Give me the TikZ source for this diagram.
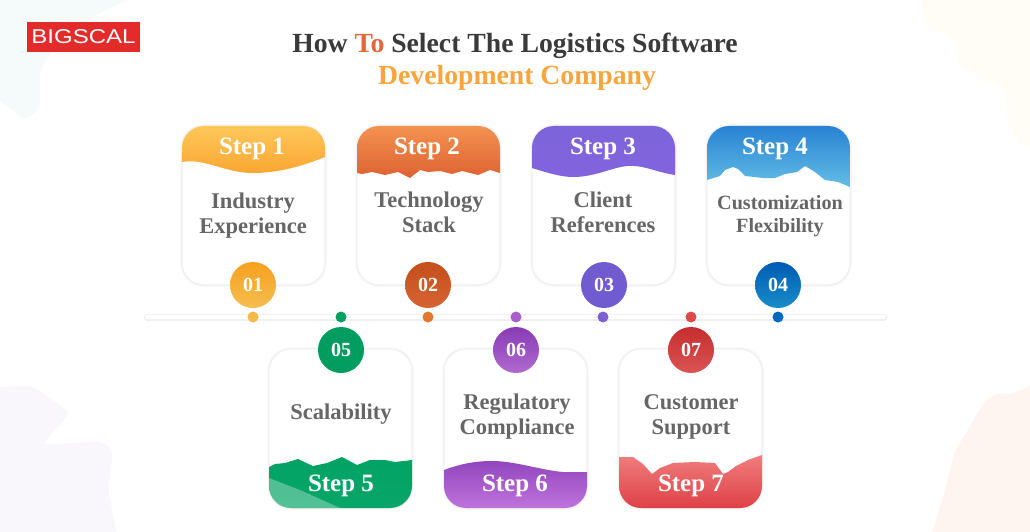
\documentclass[tikz,border=0pt]{standalone}
\usepackage{fontspec}
\setmainfont{Liberation Serif}
\newfontfamily\logofont{Liberation Sans}
\definecolor{inkdark}{HTML}{3A3A3A}
\definecolor{inkgrey}{HTML}{666666}
\definecolor{titleorange}{HTML}{F9A43C}
\definecolor{titlered}{HTML}{E2693C}
\definecolor{logored}{HTML}{E32B2B}
\tikzset{
  stepcard/.style  = {draw=black!6,line width=1.2pt,fill=white,rounded corners=22pt,
                      preaction={draw=black!3,line width=3.5pt},
                      minimum width=143pt,minimum height=159pt,inner sep=0pt,outer sep=0pt},
  steptitle/.style = {font=\fontsize{25}{25}\selectfont\bfseries,white,inner sep=0pt},
  stepbody/.style  = {font=\fontsize{22.5}{25}\selectfont\bfseries,inkgrey,align=center,inner sep=0pt},
  stepnum/.style   = {circle,minimum size=46pt,inner sep=0pt,
                      font=\fontsize{20}{20}\selectfont\bfseries,white},
  stepdot/.style   = {circle,minimum size=11pt,inner sep=0pt},
  timeline/.style  = {draw=black!6,line width=1.5pt,double=white,double distance=4pt,line cap=round},
  blob/.style      = {draw=none,rounded corners=6pt}
}
\begin{document}
\begin{tikzpicture}[x=1pt,y=-1pt]
  \useasboundingbox (0,0) rectangle (1030,532);
  \fill[white] (0,0) rectangle (1030,532);
  % pale washes in the corners
  \fill[blob,fill={rgb,255:red,244;green,251;blue,250}] (0,-8) -- (150,-8) -- (108,8) -- (60,38) -- (40,70)
        -- (40,108) -- (25,120) -- (-8,95) -- cycle;
  \fill[blob,fill={rgb,255:red,255;green,253;blue,245}] (920,-8) -- (925,25) -- (955,40) -- (958,65) -- (1005,90)
        -- (1008,125) -- (1020,145) -- (1038,145) -- (1038,-8) -- cycle;
  \fill[blob,fill={rgb,255:red,249;green,247;blue,251}] (-8,387) -- (32,386) -- (60,405) -- (70,413) -- (42,445)
        -- (100,441) -- (113,450) -- (108,490) -- (118,540) -- (-8,540) -- cycle;
  \fill[blob,fill={rgb,255:red,255;green,245;blue,240}] (1038,382) -- (1010,395) -- (1000,392) -- (985,400)
        -- (965,435) -- (955,450) -- (945,490) -- (930,540) -- (1038,540) -- cycle;

  % logo and heading
  \node[fill=logored,minimum width=113pt,minimum height=30pt,inner sep=0pt] (logobox) at (83.5,37) {};
  \node[xscale=1.2,font=\logofont\fontsize{20}{20}\selectfont,white,inner sep=0pt] (logotext) at (logobox) {BIGSCAL};
  \node[font=\fontsize{27.7}{28}\selectfont\bfseries,inkdark,inner sep=0pt] (headA) at (515,46)
        {How \textcolor{titlered}{To} Select The Logistics Software};
  \node[font=\fontsize{27.7}{28}\selectfont\bfseries,titleorange,inner sep=0pt] (headB) at (517,78)
        {Development Company};

  % timeline behind everything
  \coordinate (lineL) at (147,317);
  \coordinate (lineR) at (884,317);
  \draw[timeline] (lineL) -- (lineR);

  % upper cards
  \node[stepcard] (cardA) at (253.5,205.5) {};
  \node[stepcard] (cardB) at (428.5,205.5) {};
  \node[stepcard] (cardC) at (603.5,205.5) {};
  \node[stepcard] (cardD) at (778.5,205.5) {};
  % lower cards
  \node[stepcard] (cardE) at (340.5,428.5) {};
  \node[stepcard] (cardF) at (515.5,428.5) {};
  \node[stepcard] (cardG) at (690.5,428.5) {};

  % coloured bands, clipped to the cards
  \begin{scope}
    \clip[rounded corners=22pt] (cardA.north west) rectangle (cardA.south east);
    \shade[top color={rgb,255:red,254;green,200;blue,90},bottom color={rgb,255:red,250;green,166;blue,50}]
      (182,126) -- (325,126) -- (325,157) .. controls (305,165) and (280,173) .. (253,173)
      .. controls (225,173) and (205,158) .. (182,162) -- cycle;
  \end{scope}
  \begin{scope}
    \clip[rounded corners=22pt] (cardB.north west) rectangle (cardB.south east);
    \shade[top color={rgb,255:red,243;green,146;blue,80},middle color={rgb,255:red,224;green,100;blue,52},bottom color={rgb,255:red,222;green,98;blue,50}]
      (357,126) -- (500,126) -- (500,173) -- (490,170) -- (478,175) -- (462,171) -- (452,174) -- (440,171)
      -- (428,172) -- (420,170) -- (410,178) -- (398,172) -- (385,175) -- (372,172) -- (362,174) -- (357,173) -- cycle;
  \end{scope}
  \begin{scope}
    \clip[rounded corners=22pt] (cardC.north west) rectangle (cardC.south east);
    \shade[top color={rgb,255:red,125;green,100;blue,218},bottom color={rgb,255:red,130;green,100;blue,222}]
      (532,126) -- (675,126) -- (675,175) .. controls (655,172) and (645,165) .. (627,166)
      .. controls (610,168) and (595,177) .. (573,177) .. controls (560,177) and (545,172) .. (532,168) -- cycle;
  \end{scope}
  \begin{scope}
    \clip[rounded corners=22pt] (cardD.north west) rectangle (cardD.south east);
    \shade[top color={rgb,255:red,40;green,130;blue,210},bottom color={rgb,255:red,100;green,190;blue,230}]
      (707,126) -- (850,126) -- (850,187) -- (838,182) -- (825,180) -- (815,172) -- (805,166) -- (797,172)
      -- (785,174) -- (775,178) -- (763,178) -- (745,176) -- (738,169) -- (733,167) -- (725,170) -- (720,176)
      -- (707,180) -- cycle;
  \end{scope}
  \begin{scope}
    \clip[rounded corners=22pt] (cardE.north west) rectangle (cardE.south east);
    \shade[top color={rgb,255:red,0;green,163;blue,100},bottom color={rgb,255:red,10;green,165;blue,105}]
      (269,508) -- (412,508) -- (412,460) -- (395,462) -- (385,460) -- (370,460) -- (357,465) -- (342,457)
      -- (327,463) -- (313,466) -- (298,459) -- (285,463) -- (275,464) -- (269,467) -- cycle;
    % lighter wash in the lower left of this band
    \fill[white,opacity=.3] (269,478) -- (300,490) -- (340,508) -- (269,508) -- cycle;
  \end{scope}
  \begin{scope}
    \clip[rounded corners=22pt] (cardF.north west) rectangle (cardF.south east);
    \shade[top color={rgb,255:red,146;green,70;blue,190},bottom color={rgb,255:red,190;green,115;blue,220}]
      (444,508) -- (587,508) -- (587,472) -- (563,472) .. controls (540,470) and (515,461) .. (492,461)
      .. controls (475,461) and (460,464) .. (444,470) -- cycle;
  \end{scope}
  \begin{scope}
    \clip[rounded corners=22pt] (cardG.north west) rectangle (cardG.south east);
    \shade[top color={rgb,255:red,240;green,125;blue,125},bottom color={rgb,255:red,222;green,65;blue,70}]
      (619,508) -- (762,508) -- (762,455) -- (748,460) -- (736,466) -- (728,472) -- (723,474) -- (715,463)
      -- (695,462) -- (673,463) -- (660,468) -- (652,474) -- (643,464) -- (633,457) -- (619,457) -- cycle;
  \end{scope}

  % band titles
  \node[steptitle] (titleA) at (252,149) {Step 1};
  \node[steptitle] (titleB) at (427,149) {Step 2};
  \node[steptitle] (titleC) at (603,149) {Step 3};
  \node[steptitle] (titleD) at (775,149) {Step 4};
  \node[steptitle] (titleE) at (341,486) {Step 5};
  \node[steptitle] (titleF) at (515,486) {Step 6};
  \node[steptitle] (titleG) at (691,486) {Step 7};

  % card texts
  \node[stepbody] (textA) at (253,216) {Industry\\Experience};
  \node[stepbody] (textB) at (429,212) {Technology\\Stack};
  \node[stepbody] (textC) at (603,212) {Client\\References};
  \node[stepbody,font=\fontsize{20.2}{23}\selectfont\bfseries] (textD) at (780,216) {Customization\\Flexibility};
  \node[stepbody] (textE) at (341,414) {Scalability};
  \node[stepbody] (textF) at (517,417) {Regulatory\\Compliance};
  \node[stepbody] (textG) at (691,417) {Customer\\Support};

  % numbered discs
  \node[stepnum,top color={rgb,255:red,247;green,160;blue,30},bottom color={rgb,255:red,245;green,190;blue,80}] (numA) at (253,285) {01};
  \node[stepnum,top color={rgb,255:red,196;green,78;blue,28},bottom color={rgb,255:red,214;green,100;blue,50}] (numB) at (428,285) {02};
  \node[stepnum,fill={rgb,255:red,112;green,92;blue,208}] (numC) at (604,285) {03};
  \node[stepnum,top color={rgb,255:red,0;green,92;blue,180},bottom color={rgb,255:red,24;green,140;blue,200}] (numD) at (778,285) {04};
  \node[stepnum,fill={rgb,255:red,0;green,156;blue,96}] (numE) at (341,350) {05};
  \node[stepnum,top color={rgb,255:red,136;green,60;blue,180},bottom color={rgb,255:red,176;green,106;blue,208}] (numF) at (516,350) {06};
  \node[stepnum,top color={rgb,255:red,198;green,46;blue,46},bottom color={rgb,255:red,218;green,84;blue,84}] (numG) at (691,350) {07};

  % dots on the line
  \node[stepdot,fill={rgb,255:red,245;green,184;blue,74}] (dotA) at (253,317) {};
  \node[stepdot,fill={rgb,255:red,0;green,160;blue,96}] (dotE) at (341,317) {};
  \node[stepdot,fill={rgb,255:red,224;green,120;blue,48}] (dotB) at (428,317) {};
  \node[stepdot,fill={rgb,255:red,168;green,96;blue,204}] (dotF) at (516,317) {};
  \node[stepdot,fill={rgb,255:red,123;green,98;blue,208}] (dotC) at (603,317) {};
  \node[stepdot,fill={rgb,255:red,222;green,74;blue,74}] (dotG) at (691,317) {};
  \node[stepdot,fill={rgb,255:red,0;green,104;blue,190}] (dotD) at (778,317) {};
\end{tikzpicture}
\end{document}
